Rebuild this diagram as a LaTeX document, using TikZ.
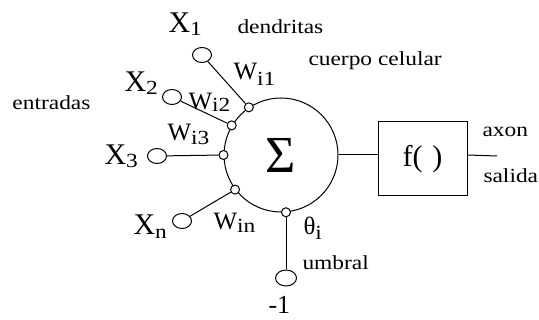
\documentclass[tikz,border=0pt]{standalone}
\usepackage{fontspec}
\setmainfont{Liberation Serif}
\newfontfamily\wf[FakeStretch=1.17]{Liberation Serif}
\newfontfamily\nf{Liberation Serif}
\usetikzlibrary{shapes.geometric}
\newcommand\sbs[2]{\raisebox{-#1pt}{\wf\fontsize{20}{20}\selectfont #2}}
\begin{document}
\begin{tikzpicture}[x=1pt,y=-1pt,line width=1pt,
  lbl/.style={font=\wf\fontsize{20}{22}\selectfont, inner sep=0, anchor=base west},
  xl/.style={font=\nf\fontsize{30}{32}\selectfont, inner sep=0, anchor=base west},
  wl/.style={font=\nf\fontsize{25}{27}\selectfont, inner sep=0, anchor=base west},
  jn/.style={circle, draw, fill=white, inner sep=0, minimum size=9pt},
  inp/.style={ellipse, draw, fill=white, inner sep=0, minimum width=19pt, minimum height=15pt}]
\useasboundingbox[fill=white] (0,0) rectangle (539,320);
% soma
\node[circle, draw, minimum size=114pt, inner sep=0, font=\nf\fontsize{52}{52}\selectfont] (soma) at (281,155) {Σ};
% activation box
\node[draw, minimum width=89pt, minimum height=74pt, inner sep=0, font=\nf\fontsize{30}{30}\selectfont] (box) at (422.5,159) {f(\,\,)};
\coordinate (out) at (497,156);
\draw (soma.east) -- (soma.east -| box.west);
\draw (box.east |- soma.east) -- (out);
% junctions
\node[jn] (j1) at (soma.124) {};
\node[jn] (j2) at (soma.149) {};
\node[jn] (j3) at (soma.180) {};
\node[jn] (j4) at (soma.217) {};
\node[jn] (j5) at (soma.275) {};
% inputs
\node[inp] (e1) at (202,55) {};
\node[inp] (e2) at (172,97) {};
\node[inp] (e3) at (157,156) {};
\node[inp] (en) at (182,221) {};
\node[inp, minimum width=21pt, minimum height=16pt] (eb) at (j5 |- 0,278) {};
\draw (e1) -- (j1);
\draw (e2) -- (j2);
\draw (e3) -- (j3);
\draw (en) -- (j4);
\draw (j5) -- (eb);
% labels
\node[lbl] (tent) at (12,110) {entradas};
\node[lbl] (tden) at (237,34) {dendritas};
\node[lbl] (tcue) at (308,66) {cuerpo celular};
\node[lbl] (taxo) at (482,137) {axon};
\node[lbl] (tsal) at (483,183) {salida};
\node[lbl] (tumb) at (302,270) {umbral};
\node[xl] (tx1) at (168,33) {X\sbs{3}{1}};
\node[xl] (tx2) at (124,92) {X\sbs{3}{2}};
\node[xl] (tx3) at (104,165) {X\sbs{3}{3}};
\node[xl] (txn) at (133,235) {X\sbs{4}{n}};
\node[wl] (tw1) at (233,80) {W\sbs{6}{i1}};
\node[wl] (tw2) at (188,110) {W\sbs{2}{i2}};
\node[wl] (tw3) at (167,141) {W\sbs{4}{i3}};
\node[wl] (twn) at (213,230) {W\sbs{3}{in}};
\node[wl] (tth) at (303,235) {θ\sbs{5}{i}};
\node[font=\nf\fontsize{26}{28}\selectfont, inner sep=0, anchor=base west] (tm1) at (268,314) {-1};
\end{tikzpicture}
\end{document}
